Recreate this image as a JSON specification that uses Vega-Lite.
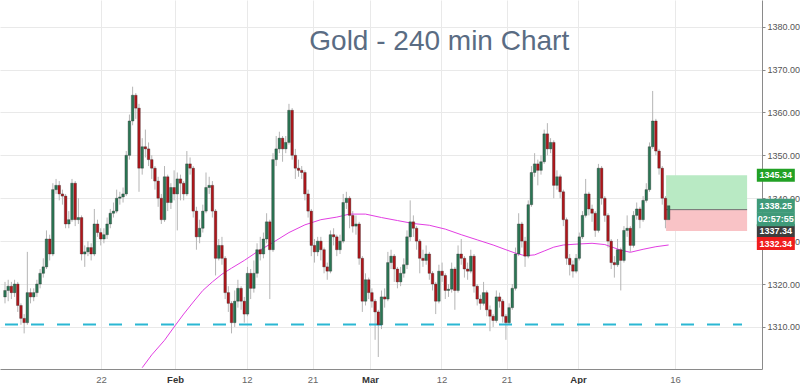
{
  "$schema": "https://vega.github.io/schema/vega-lite/v6.json",
  "width": 762,
  "height": 369,
  "autosize": {"type": "none"},
  "padding": {"left": 0, "top": 0, "right": 38, "bottom": 15},
  "background": "#ffffff",
  "config": {"view": {"stroke": null}, "font": "Liberation Sans"},
  "datasets": {
    "ohlc": [
      {"i":0,"o":1317,"h":1320.5,"l":1315.5,"c":1318.5},
      {"i":1,"o":1318.5,"h":1321,"l":1316,"c":1319.5},
      {"i":2,"o":1319.5,"h":1320.5,"l":1316.5,"c":1318},
      {"i":3,"o":1318,"h":1321,"l":1317,"c":1320},
      {"i":4,"o":1320,"h":1320.5,"l":1313.5,"c":1315},
      {"i":5,"o":1315,"h":1315.5,"l":1310.5,"c":1312},
      {"i":6,"o":1312,"h":1313,"l":1308.5,"c":1311},
      {"i":7,"o":1311,"h":1327.5,"l":1310.5,"c":1318},
      {"i":8,"o":1318,"h":1319,"l":1315.5,"c":1317},
      {"i":9,"o":1317,"h":1319,"l":1316,"c":1318},
      {"i":10,"o":1318,"h":1321,"l":1317,"c":1320},
      {"i":11,"o":1320,"h":1323.5,"l":1319,"c":1322.5},
      {"i":12,"o":1322.5,"h":1326,"l":1321.5,"c":1324},
      {"i":13,"o":1324,"h":1332.5,"l":1323.5,"c":1330.5},
      {"i":14,"o":1330.5,"h":1331.5,"l":1325.5,"c":1327},
      {"i":15,"o":1327,"h":1343.5,"l":1326.5,"c":1342},
      {"i":16,"o":1342,"h":1344.5,"l":1341,"c":1343},
      {"i":17,"o":1343,"h":1344,"l":1339.5,"c":1341},
      {"i":18,"o":1341,"h":1342,"l":1338.5,"c":1340.5},
      {"i":19,"o":1340.5,"h":1341,"l":1333,"c":1334},
      {"i":20,"o":1334,"h":1337,"l":1333,"c":1335},
      {"i":21,"o":1335,"h":1344.5,"l":1334.5,"c":1343.5},
      {"i":22,"o":1343.5,"h":1344,"l":1333.5,"c":1335},
      {"i":23,"o":1335,"h":1340,"l":1334,"c":1335.5},
      {"i":24,"o":1335.5,"h":1336,"l":1325.5,"c":1327},
      {"i":25,"o":1327,"h":1329,"l":1324,"c":1327.5},
      {"i":26,"o":1327.5,"h":1330,"l":1326.5,"c":1328.5},
      {"i":27,"o":1328.5,"h":1329.5,"l":1325.5,"c":1327},
      {"i":28,"o":1327,"h":1337.5,"l":1326.5,"c":1334},
      {"i":29,"o":1334,"h":1335,"l":1331,"c":1332},
      {"i":30,"o":1332,"h":1333,"l":1329,"c":1330.5},
      {"i":31,"o":1330.5,"h":1333,"l":1329.5,"c":1331.5},
      {"i":32,"o":1331.5,"h":1335.5,"l":1330.5,"c":1334},
      {"i":33,"o":1334,"h":1337.5,"l":1333,"c":1336.5},
      {"i":34,"o":1336.5,"h":1339,"l":1335.5,"c":1337},
      {"i":35,"o":1337,"h":1342,"l":1336.5,"c":1340},
      {"i":36,"o":1340,"h":1341.5,"l":1338.5,"c":1340.3},
      {"i":37,"o":1340.3,"h":1342.5,"l":1339,"c":1341},
      {"i":38,"o":1341,"h":1351,"l":1340.5,"c":1350},
      {"i":39,"o":1350,"h":1359.5,"l":1349,"c":1358},
      {"i":40,"o":1358,"h":1366,"l":1357,"c":1364},
      {"i":41,"o":1364,"h":1364.5,"l":1358.5,"c":1361},
      {"i":42,"o":1361,"h":1362,"l":1341.5,"c":1347},
      {"i":43,"o":1347,"h":1354,"l":1345.5,"c":1352},
      {"i":44,"o":1352,"h":1356,"l":1349.5,"c":1351.5},
      {"i":45,"o":1351.5,"h":1353,"l":1347.5,"c":1349},
      {"i":46,"o":1349,"h":1350,"l":1344.5,"c":1347},
      {"i":47,"o":1347,"h":1347.5,"l":1342,"c":1344},
      {"i":48,"o":1344,"h":1345,"l":1338,"c":1340},
      {"i":49,"o":1340,"h":1341,"l":1334,"c":1335},
      {"i":50,"o":1335,"h":1347.5,"l":1334.5,"c":1345},
      {"i":51,"o":1345,"h":1345.5,"l":1337,"c":1339},
      {"i":52,"o":1339,"h":1343.5,"l":1337.5,"c":1342.5},
      {"i":53,"o":1342.5,"h":1346.5,"l":1339.5,"c":1341},
      {"i":54,"o":1341,"h":1346,"l":1332.5,"c":1344.5},
      {"i":55,"o":1344.5,"h":1345.5,"l":1339.5,"c":1343.5},
      {"i":56,"o":1343.5,"h":1344,"l":1339.5,"c":1341},
      {"i":57,"o":1341,"h":1351,"l":1340.5,"c":1348},
      {"i":58,"o":1348,"h":1349.5,"l":1345.5,"c":1347},
      {"i":59,"o":1347,"h":1347.5,"l":1335.5,"c":1337},
      {"i":60,"o":1337,"h":1338,"l":1328,"c":1331},
      {"i":61,"o":1331,"h":1335,"l":1329.5,"c":1333},
      {"i":62,"o":1333,"h":1338.5,"l":1332,"c":1337},
      {"i":63,"o":1337,"h":1346,"l":1336.5,"c":1342.5},
      {"i":64,"o":1342.5,"h":1345,"l":1341,"c":1343},
      {"i":65,"o":1343,"h":1344,"l":1335.5,"c":1337},
      {"i":66,"o":1337,"h":1337.5,"l":1322,"c":1326},
      {"i":67,"o":1326,"h":1330.5,"l":1325.5,"c":1329},
      {"i":68,"o":1329,"h":1331,"l":1324.5,"c":1326},
      {"i":69,"o":1326,"h":1326.5,"l":1316.5,"c":1318},
      {"i":70,"o":1318,"h":1319.5,"l":1313.5,"c":1315.5},
      {"i":71,"o":1315.5,"h":1316,"l":1308.5,"c":1311},
      {"i":72,"o":1311,"h":1318.5,"l":1310,"c":1316},
      {"i":73,"o":1316,"h":1321,"l":1314.5,"c":1319},
      {"i":74,"o":1319,"h":1319.5,"l":1314,"c":1316},
      {"i":75,"o":1316,"h":1317,"l":1311,"c":1313},
      {"i":76,"o":1313,"h":1324,"l":1312.5,"c":1322.5},
      {"i":77,"o":1322.5,"h":1323.5,"l":1316.5,"c":1319},
      {"i":78,"o":1319,"h":1325.5,"l":1318,"c":1322.5},
      {"i":79,"o":1322.5,"h":1329.5,"l":1321.5,"c":1328},
      {"i":80,"o":1328,"h":1331,"l":1325.5,"c":1327},
      {"i":81,"o":1327,"h":1332,"l":1326,"c":1330.5},
      {"i":82,"o":1330.5,"h":1336.5,"l":1329.5,"c":1334.5},
      {"i":83,"o":1334.5,"h":1335,"l":1316.5,"c":1328},
      {"i":84,"o":1328,"h":1350.5,"l":1327.5,"c":1349},
      {"i":85,"o":1349,"h":1354.5,"l":1347.5,"c":1351.5},
      {"i":86,"o":1351.5,"h":1355.5,"l":1350.5,"c":1354},
      {"i":87,"o":1354,"h":1354.5,"l":1348.5,"c":1351.5},
      {"i":88,"o":1351.5,"h":1354.5,"l":1350.5,"c":1353},
      {"i":89,"o":1353,"h":1362,"l":1352.5,"c":1360.5},
      {"i":90,"o":1360.5,"h":1361,"l":1349,"c":1350},
      {"i":91,"o":1350,"h":1351.5,"l":1344.5,"c":1347},
      {"i":92,"o":1347,"h":1349,"l":1345,"c":1346.5},
      {"i":93,"o":1346.5,"h":1347.5,"l":1344.5,"c":1346},
      {"i":94,"o":1346,"h":1346.5,"l":1339.5,"c":1341},
      {"i":95,"o":1341,"h":1342,"l":1335.5,"c":1337},
      {"i":96,"o":1337,"h":1337.5,"l":1326.5,"c":1329},
      {"i":97,"o":1329,"h":1330.5,"l":1325,"c":1327.5},
      {"i":98,"o":1327.5,"h":1331,"l":1326.5,"c":1330},
      {"i":99,"o":1330,"h":1331,"l":1325.5,"c":1328},
      {"i":100,"o":1328,"h":1328.5,"l":1322.5,"c":1324},
      {"i":101,"o":1324,"h":1325,"l":1321,"c":1323},
      {"i":102,"o":1323,"h":1332.5,"l":1322.5,"c":1331.5},
      {"i":103,"o":1331.5,"h":1333,"l":1329,"c":1331},
      {"i":104,"o":1331,"h":1331.5,"l":1326.5,"c":1328},
      {"i":105,"o":1328,"h":1331.5,"l":1327,"c":1330},
      {"i":106,"o":1330,"h":1341,"l":1329.5,"c":1339},
      {"i":107,"o":1339,"h":1341.5,"l":1337.5,"c":1340},
      {"i":108,"o":1340,"h":1340.5,"l":1333,"c":1336},
      {"i":109,"o":1336,"h":1337,"l":1332,"c":1333.5},
      {"i":110,"o":1333.5,"h":1336,"l":1331.5,"c":1334},
      {"i":111,"o":1334,"h":1334.5,"l":1324.5,"c":1326},
      {"i":112,"o":1326,"h":1326.5,"l":1313.5,"c":1316},
      {"i":113,"o":1316,"h":1322.5,"l":1315,"c":1321},
      {"i":114,"o":1321,"h":1321.5,"l":1316.5,"c":1318},
      {"i":115,"o":1318,"h":1319,"l":1314.5,"c":1316},
      {"i":116,"o":1316,"h":1316.5,"l":1307,"c":1313.5},
      {"i":117,"o":1313.5,"h":1314,"l":1303,"c":1310.5},
      {"i":118,"o":1310.5,"h":1318.5,"l":1309.5,"c":1317},
      {"i":119,"o":1317,"h":1319,"l":1314.5,"c":1316.5},
      {"i":120,"o":1316.5,"h":1327.5,"l":1316,"c":1325},
      {"i":121,"o":1325,"h":1328,"l":1323.5,"c":1326.5},
      {"i":122,"o":1326.5,"h":1327,"l":1320.5,"c":1323.5},
      {"i":123,"o":1323.5,"h":1324,"l":1319,"c":1320.5},
      {"i":124,"o":1320.5,"h":1324,"l":1319.5,"c":1322.5},
      {"i":125,"o":1322.5,"h":1326,"l":1321.5,"c":1324.5},
      {"i":126,"o":1324.5,"h":1332.5,"l":1323.5,"c":1331},
      {"i":127,"o":1331,"h":1339.5,"l":1330,"c":1334.5},
      {"i":128,"o":1334.5,"h":1336,"l":1331,"c":1333},
      {"i":129,"o":1333,"h":1333.5,"l":1328,"c":1330},
      {"i":130,"o":1330,"h":1330.5,"l":1322.5,"c":1326},
      {"i":131,"o":1326,"h":1328,"l":1324,"c":1325.5},
      {"i":132,"o":1325.5,"h":1329,"l":1324.5,"c":1327},
      {"i":133,"o":1327,"h":1327.5,"l":1321,"c":1322.5},
      {"i":134,"o":1322.5,"h":1323,"l":1318.5,"c":1320},
      {"i":135,"o":1320,"h":1320.5,"l":1313,"c":1316},
      {"i":136,"o":1316,"h":1324.5,"l":1315.5,"c":1323},
      {"i":137,"o":1323,"h":1325,"l":1320.5,"c":1322},
      {"i":138,"o":1322,"h":1322.5,"l":1316.5,"c":1318.5},
      {"i":139,"o":1318.5,"h":1320,"l":1317,"c":1318.8},
      {"i":140,"o":1318.8,"h":1325,"l":1318,"c":1323.5},
      {"i":141,"o":1323.5,"h":1324,"l":1314,"c":1318.5},
      {"i":142,"o":1318.5,"h":1329,"l":1318,"c":1327},
      {"i":143,"o":1327,"h":1330.5,"l":1324.5,"c":1326},
      {"i":144,"o":1326,"h":1326.5,"l":1321.5,"c":1323.5},
      {"i":145,"o":1323.5,"h":1325,"l":1321,"c":1323},
      {"i":146,"o":1323,"h":1328,"l":1322.5,"c":1326.5},
      {"i":147,"o":1326.5,"h":1327,"l":1318,"c":1319.5},
      {"i":148,"o":1319.5,"h":1320,"l":1315,"c":1316.5},
      {"i":149,"o":1316.5,"h":1317.5,"l":1314,"c":1315.5},
      {"i":150,"o":1315.5,"h":1320.5,"l":1315,"c":1318},
      {"i":151,"o":1318,"h":1318.5,"l":1312.5,"c":1314},
      {"i":152,"o":1314,"h":1315,"l":1309,"c":1312.5},
      {"i":153,"o":1312.5,"h":1313,"l":1310,"c":1311.5},
      {"i":154,"o":1311.5,"h":1318.5,"l":1311,"c":1317},
      {"i":155,"o":1317,"h":1318,"l":1314.5,"c":1316},
      {"i":156,"o":1316,"h":1316.5,"l":1311,"c":1312.5},
      {"i":157,"o":1312.5,"h":1313,"l":1307,"c":1311},
      {"i":158,"o":1311,"h":1315.5,"l":1310.5,"c":1314.5},
      {"i":159,"o":1314.5,"h":1320,"l":1314,"c":1319},
      {"i":160,"o":1319,"h":1328.5,"l":1318.5,"c":1327},
      {"i":161,"o":1327,"h":1336.5,"l":1326.5,"c":1334},
      {"i":162,"o":1334,"h":1334.5,"l":1328.5,"c":1330},
      {"i":163,"o":1330,"h":1331,"l":1324,"c":1326.5},
      {"i":164,"o":1326.5,"h":1339.5,"l":1326,"c":1338.5},
      {"i":165,"o":1338.5,"h":1347.5,"l":1338,"c":1346},
      {"i":166,"o":1346,"h":1350.5,"l":1345,"c":1348},
      {"i":167,"o":1348,"h":1349,"l":1343,"c":1346.5},
      {"i":168,"o":1346.5,"h":1350,"l":1345.5,"c":1348.5},
      {"i":169,"o":1348.5,"h":1356,"l":1348,"c":1355},
      {"i":170,"o":1355,"h":1357.5,"l":1350,"c":1351.5},
      {"i":171,"o":1351.5,"h":1354,"l":1350.5,"c":1353},
      {"i":172,"o":1353,"h":1353.5,"l":1340,"c":1343},
      {"i":173,"o":1343,"h":1346.5,"l":1342,"c":1345},
      {"i":174,"o":1345,"h":1345.5,"l":1340,"c":1341.5},
      {"i":175,"o":1341.5,"h":1342,"l":1333.5,"c":1335},
      {"i":176,"o":1335,"h":1335.5,"l":1324.5,"c":1326},
      {"i":177,"o":1326,"h":1327,"l":1322,"c":1324.5},
      {"i":178,"o":1324.5,"h":1325.5,"l":1321.5,"c":1323},
      {"i":179,"o":1323,"h":1327,"l":1322.5,"c":1326},
      {"i":180,"o":1326,"h":1332,"l":1325.5,"c":1331},
      {"i":181,"o":1331,"h":1337,"l":1330.5,"c":1336},
      {"i":182,"o":1336,"h":1344.5,"l":1335.5,"c":1341},
      {"i":183,"o":1341,"h":1341.5,"l":1336,"c":1337.5},
      {"i":184,"o":1337.5,"h":1338.5,"l":1334.5,"c":1336.5},
      {"i":185,"o":1336.5,"h":1337,"l":1331,"c":1332.5},
      {"i":186,"o":1332.5,"h":1348,"l":1332,"c":1347},
      {"i":187,"o":1347,"h":1347.5,"l":1338.5,"c":1340},
      {"i":188,"o":1340,"h":1340.5,"l":1334.5,"c":1336},
      {"i":189,"o":1336,"h":1336.5,"l":1328.5,"c":1330},
      {"i":190,"o":1330,"h":1330.5,"l":1323.5,"c":1325},
      {"i":191,"o":1325,"h":1326.5,"l":1321.5,"c":1324.5},
      {"i":192,"o":1324.5,"h":1330.5,"l":1324,"c":1328},
      {"i":193,"o":1328,"h":1328.5,"l":1318.5,"c":1325.5},
      {"i":194,"o":1325.5,"h":1333.5,"l":1325,"c":1332.5},
      {"i":195,"o":1332.5,"h":1336,"l":1331,"c":1333},
      {"i":196,"o":1333,"h":1333.5,"l":1327.5,"c":1329},
      {"i":197,"o":1329,"h":1337,"l":1328.5,"c":1336},
      {"i":198,"o":1336,"h":1339,"l":1335,"c":1337.5},
      {"i":199,"o":1337.5,"h":1338,"l":1333,"c":1335},
      {"i":200,"o":1335,"h":1340.5,"l":1334.5,"c":1339.5},
      {"i":201,"o":1339.5,"h":1343.5,"l":1339,"c":1342},
      {"i":202,"o":1342,"h":1353,"l":1341.5,"c":1352},
      {"i":203,"o":1352,"h":1365,"l":1351.5,"c":1358},
      {"i":204,"o":1358,"h":1358.5,"l":1350,"c":1351},
      {"i":205,"o":1351,"h":1351.5,"l":1345.5,"c":1347},
      {"i":206,"o":1347,"h":1347.5,"l":1338.5,"c":1340},
      {"i":207,"o":1340,"h":1340.5,"l":1333,"c":1335},
      {"i":208,"o":1335,"h":1339,"l":1334,"c":1338.25}
    ],
    "ma": [
      {"i":43,"ma":1300.5},{"i":46,"ma":1303.5},{"i":50,"ma":1306.9},{"i":53,"ma":1310},
      {"i":56,"ma":1313},{"i":59,"ma":1315.8},{"i":62,"ma":1318.5},{"i":65,"ma":1320.5},
      {"i":68,"ma":1322.3},{"i":71,"ma":1323.7},{"i":75,"ma":1325.5},{"i":79,"ma":1327.5},
      {"i":84,"ma":1329.7},{"i":89,"ma":1332},{"i":94,"ma":1333.8},{"i":99,"ma":1335},
      {"i":104,"ma":1335.6},{"i":108,"ma":1336.3},{"i":113,"ma":1336.3},{"i":118,"ma":1335.5},
      {"i":123,"ma":1334.8},{"i":128,"ma":1334.1},{"i":133,"ma":1333.7},{"i":138,"ma":1332.8},
      {"i":143,"ma":1331.5},{"i":148,"ma":1330.3},{"i":153,"ma":1329.1},{"i":157,"ma":1328},
      {"i":160,"ma":1327.2},{"i":163,"ma":1326.6},{"i":166,"ma":1326.8},{"i":169,"ma":1327.7},
      {"i":172,"ma":1328.6},{"i":175,"ma":1329.1},{"i":179,"ma":1329.3},{"i":184,"ma":1329.5},
      {"i":188,"ma":1329.2},{"i":193,"ma":1327.9},{"i":196,"ma":1327.4},{"i":200,"ma":1328.1},
      {"i":204,"ma":1328.7},{"i":208,"ma":1329.1}
    ],
    "one": [{}]
  },
  "layer": [
    {
      "data": {"name": "ohlc"},
      "mark": {"type": "rule", "color": "#b5b5b5", "strokeWidth": 1},
      "encoding": {
        "x": {"field": "i", "type": "quantitative",
              "scale": {"domain": [0, 235.7], "nice": false, "zero": false},
              "axis": {"title": null, "orient": "bottom",
                       "values": [30.1, 53.3, 75.8, 96.4, 114.4, 136.8, 157.2, 179.6, 210],
                       "labelExpr": "datum.value < 40 ? '22' : datum.value < 60 ? 'Feb' : datum.value < 85 ? '12' : datum.value < 105 ? '21' : datum.value < 125 ? 'Mar' : datum.value < 145 ? '12' : datum.value < 165 ? '21' : datum.value < 190 ? 'Apr' : '16'",
                       "grid": true, "gridColor": "#e9e9e9", "gridWidth": 1,
                       "ticks": false, "domainColor": "#8a8a8a", "domainWidth": 1,
                       "labelFont": "Liberation Sans", "labelFontSize": 9.5, "labelPadding": 5,
                       "labelColor": {"condition": {"test": "(datum.value > 50 && datum.value < 60) || (datum.value > 110 && datum.value < 120) || (datum.value > 175 && datum.value < 185)", "value": "#333333"}, "value": "#666666"},
                       "labelFontWeight": {"condition": {"test": "(datum.value > 50 && datum.value < 60) || (datum.value > 110 && datum.value < 120) || (datum.value > 175 && datum.value < 185)", "value": "bold"}, "value": "normal"}}},
        "y": {"field": "l", "type": "quantitative",
              "scale": {"domain": [1300.2, 1386.2], "nice": false, "zero": false},
              "axis": {"title": null, "orient": "right",
                       "values": [1310, 1320, 1330, 1340, 1350, 1360, 1370, 1380],
                       "format": ".2f", "grid": true, "gridColor": "#e9e9e9",
                       "tickSize": 3, "tickColor": "#8a8a8a", "domainColor": "#8a8a8a",
                       "labelFont": "Liberation Sans", "labelFontSize": 9, "labelColor": "#555555", "labelPadding": 2}},
        "y2": {"field": "h"}
      }
    },
    {
      "data": {"name": "one"},
      "mark": {"type": "rect", "color": "#b9eac4"},
      "encoding": {
        "x": {"datum": 207.2, "type": "quantitative", "axis": {"title": null}},
        "x2": {"datum": 232.6},
        "y": {"datum": 1337.34, "type": "quantitative", "axis": {"title": null}},
        "y2": {"datum": 1345.34}
      }
    },
    {
      "data": {"name": "one"},
      "mark": {"type": "rect", "color": "#f9c3c6"},
      "encoding": {
        "x": {"datum": 207.2, "type": "quantitative", "axis": {"title": null}},
        "x2": {"datum": 232.6},
        "y": {"datum": 1332.34, "type": "quantitative", "axis": {"title": null}},
        "y2": {"datum": 1337.34}
      }
    },
    {
      "data": {"name": "one"},
      "mark": {"type": "rule", "color": "#6f6f6f", "strokeWidth": 1},
      "encoding": {
        "x": {"datum": 207.2, "type": "quantitative", "axis": {"title": null}},
        "x2": {"datum": 232.6},
        "y": {"datum": 1337.34, "type": "quantitative", "axis": {"title": null}}
      }
    },
    {
      "data": {"name": "one"},
      "mark": {"type": "rule", "color": "#2bb7d3", "strokeWidth": 2, "strokeDash": [13, 13]},
      "encoding": {
        "x": {"datum": 0, "type": "quantitative", "axis": {"title": null}},
        "x2": {"datum": 231},
        "y": {"datum": 1310.6, "type": "quantitative", "axis": {"title": null}}
      }
    },
    {
      "data": {"name": "ma"},
      "mark": {"type": "line", "color": "#e23ee2", "strokeWidth": 1, "clip": true},
      "encoding": {
        "x": {"field": "i", "type": "quantitative", "axis": {"title": null}},
        "y": {"field": "ma", "type": "quantitative", "axis": {"title": null}}
      }
    },
    {
      "data": {"name": "ohlc"},
      "mark": {"type": "bar", "width": 2.6, "stroke": "#2b2b2b", "strokeWidth": 0.35},
      "encoding": {
        "x": {"field": "i", "type": "quantitative", "axis": {"title": null}},
        "y": {"field": "o", "type": "quantitative", "axis": {"title": null}},
        "y2": {"field": "c"},
        "color": {"condition": {"test": "datum.c >= datum.o", "value": "#2a7654"}, "value": "#b0161b"}
      }
    },
    {
      "data": {"name": "one"},
      "mark": {"type": "text", "font": "Liberation Sans", "fontSize": 28, "color": "#5a6c83", "align": "center", "baseline": "alphabetic"},
      "encoding": {
        "x": {"datum": 136.1, "type": "quantitative", "axis": {"title": null}},
        "y": {"datum": 1374.6, "type": "quantitative", "axis": {"title": null}},
        "text": {"value": "Gold - 240 min Chart"}
      }
    },
    {
      "data": {"values": [{"v": 1337.34, "t": "1337.34"}]},
      "encoding": {
        "x": {"datum": 241.6, "type": "quantitative", "axis": {"title": null}},
        "y": {"field": "v", "type": "quantitative", "axis": {"title": null}}
      },
      "layer": [
        {"mark": {"type": "tick", "orient": "horizontal", "size": 38, "thickness": 13, "color": "#3d3d3d", "opacity": 1, "yOffset": 21}},
        {"mark": {"type": "text", "font": "Liberation Sans", "fontSize": 9, "fontWeight": "bold", "color": "#ffffff", "align": "center", "baseline": "middle", "yOffset": 21}, "encoding": {"text": {"field": "t"}}}
      ]
    },
    {
      "data": {"values": [{"v": 1338.25, "t": "1338.25"}]},
      "encoding": {
        "x": {"datum": 241.6, "type": "quantitative", "axis": {"title": null}},
        "y": {"field": "v", "type": "quantitative", "axis": {"title": null}}
      },
      "layer": [
        {"mark": {"type": "tick", "orient": "horizontal", "size": 38, "thickness": 14, "color": "#3f9a79", "opacity": 1}},
        {"mark": {"type": "text", "font": "Liberation Sans", "fontSize": 9, "fontWeight": "bold", "color": "#ffffff", "align": "center", "baseline": "middle"}, "encoding": {"text": {"field": "t"}}}
      ]
    },
    {
      "data": {"values": [{"v": 1338.25, "t": "02:57:55"}]},
      "encoding": {
        "x": {"datum": 241.6, "type": "quantitative", "axis": {"title": null}},
        "y": {"field": "v", "type": "quantitative", "axis": {"title": null}}
      },
      "layer": [
        {"mark": {"type": "tick", "orient": "horizontal", "size": 38, "thickness": 14, "color": "#3f9a79", "opacity": 1, "yOffset": 13.5}},
        {"mark": {"type": "text", "font": "Liberation Sans", "fontSize": 9, "fontWeight": "bold", "color": "#ffffff", "align": "center", "baseline": "middle", "yOffset": 13.5}, "encoding": {"text": {"field": "t"}}}
      ]
    },
    {
      "data": {"values": [{"v": 1332.34, "t": "1332.34"}]},
      "encoding": {
        "x": {"datum": 241.6, "type": "quantitative", "axis": {"title": null}},
        "y": {"field": "v", "type": "quantitative", "axis": {"title": null}}
      },
      "layer": [
        {"mark": {"type": "tick", "orient": "horizontal", "size": 38, "thickness": 13, "color": "#f01d1d", "opacity": 1, "yOffset": 12.5}},
        {"mark": {"type": "text", "font": "Liberation Sans", "fontSize": 9, "fontWeight": "bold", "color": "#ffffff", "align": "center", "baseline": "middle", "yOffset": 12.5}, "encoding": {"text": {"field": "t"}}}
      ]
    },
    {
      "data": {"values": [{"v": 1345.34, "t": "1345.34"}]},
      "encoding": {
        "x": {"datum": 241.6, "type": "quantitative", "axis": {"title": null}},
        "y": {"field": "v", "type": "quantitative", "axis": {"title": null}}
      },
      "layer": [
        {"mark": {"type": "tick", "orient": "horizontal", "size": 38, "thickness": 13, "color": "#22a125", "opacity": 1}},
        {"mark": {"type": "text", "font": "Liberation Sans", "fontSize": 9, "fontWeight": "bold", "color": "#ffffff", "align": "center", "baseline": "middle"}, "encoding": {"text": {"field": "t"}}}
      ]
    }
  ]
}
